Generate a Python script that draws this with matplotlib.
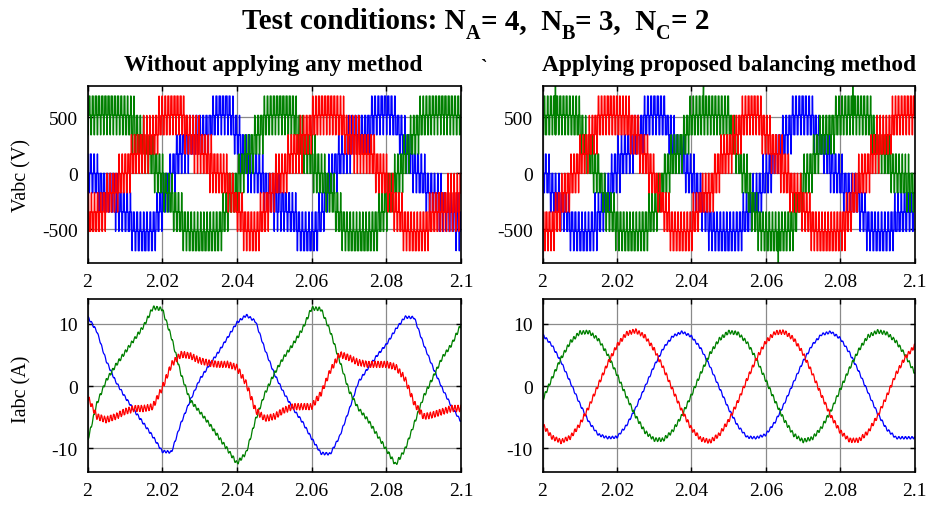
import numpy as np
import pandas as pd
import matplotlib
matplotlib.use("Agg")
import matplotlib.pyplot as plt

plt.rcParams["font.family"] = ["Liberation Serif", "DejaVu Serif"]
plt.rcParams["axes.unicode_minus"] = False

# ---------------------------------------------------------------- data
# sample instants of the tabulated waveforms (s)
t_samp = np.linspace(2.0, 2.1, 41)

# phase voltage references (V) -- without any balancing method
v_left_a = [60, -60, -150, -260, -340, -480, -560, -520, -250, 0, 220, 280, 330,
            400, 560, 580, 350, 100, 30, -100, -250, -280, -380, -540, -570, -400,
            -30, 120, 250, 330, 400, 540, 590, 470, 250, 60, -80, -180, -280, -380, -480]
v_left_b = [520, 560, 580, 560, 520, 420, 250, 120, -60, -250, -420, -540, -580,
            -560, -520, -300, -100, 150, 300, 480, 560, 580, 540, 250, 120, -30,
            -150, -400, -540, -580, -560, -480, -250, -80, 150, 350, 500, 560, 580, 560, 520]
v_left_c = [-420, -380, -250, -120, 0, 150, 250, 300, 480, 560, 560, 300, 250,
            100, 0, -80, -300, -480, -540, -350, -80, 0, 200, 280, 450, 560, 580,
            500, 300, 250, 200, 60, -60, -300, -480, -560, -520, -380, -300, -250, -250]

# phase voltage references (V) -- proposed balancing method
v_right_a = [60, -150, -250, -450, -540, -550, -400, -200, 60, 180, 280, 480, 560,
             520, 280, 120, -30, -200, -450, -540, -560, -520, -380, -220, -50, 150,
             300, 480, 560, 480, 250, 80, -60, -150, -250, -450, -550, -540, -420, -350, -300]
v_right_b = [450, 540, 560, 520, 450, 150, 0, -300, -450, -550, -560, -500, -350,
             -50, 120, 250, 480, 540, 560, 520, 520, 150, -100, -400, -540, -560,
             -540, -450, -100, 80, 300, 400, 500, 560, 560, 520, 300, 150, 0, -80, -120]
v_right_c = [-480, -500, -250, -80, 100, 250, 480, 560, 520, 480, 380, 150, -30,
             -300, -500, -560, -500, -250, -180, 80, 200, 380, 540, 560, 350, 200,
             30, -150, -280, -450, -560, -560, -500, -350, -100, 50, 250, 300, 500, 560, 560]

# isolated overshoots of phase b voltage (balanced case)
spike_t = [2.0035, 2.0433, 2.0634, 2.0834]
spike_v = [780, 780, -800, 780]

# phase currents (A) -- without any balancing method
i_left_a = [11.2, 8.8, 4.1, 0.8, -1.7, -3.9, -6.0, -8.1, -10.5, -10.6, -6.0, -2.3,
            1.0, 3.3, 5.4, 7.8, 10.2, 11.4, 10.4, 5.9, 2.0, -1.0, -3.6, -5.7, -8.4,
            -10.8, -10.9, -8.1, -3.9, 0.6, 2.8, 4.9, 6.7, 9.1, 11.1, 11.0, 6.7, 3.0,
            -0.4, -3.3, -5.7]
i_left_b = [-8.9, -2.8, 0.9, 3.3, 5.4, 7.5, 9.6, 12.6, 12.4, 7.8, 2.0, -2.3, -4.1,
            -6.0, -8.1, -10.2, -12.4, -10.7, -5.4, -1.2, 2.0, 4.6, 6.7, 9.1, 12.5,
            12.4, 8.8, 4.1, -0.7, -3.6, -5.4, -7.8, -10.2, -12.6, -10.2, -6.0, -1.7,
            1.4, 4.6, 6.7, 9.9]
i_left_c = [-1.7, -4.9, -5.4, -4.9, -4.1, -3.6, -3.6, -3.3, -0.3, 3.5, 5.1, 4.9,
            4.1, 3.7, 3.5, 3.5, 3.0, 0.4, -3.9, -5.2, -4.9, -3.9, -3.3, -3.3, -3.3,
            -1.2, 2.5, 5.1, 4.6, 3.8, 3.5, 3.5, 3.5, 3.1, 1.2, -2.8, -4.9, -4.6, -4.1,
            -3.6, -3.6]

# phase currents (A) -- proposed balancing method
i_right_a = [8.3, 6.6, 3.9, 0.6, -2.8, -5.8, -7.8, -8.3, -8.2, -6.4, -3.6, -0.2,
             3.2, 6.1, 8.0, 8.7, 8.0, 6.1, 3.2, -0.2, -3.6, -6.4, -8.2, -8.3, -7.8,
             -5.8, -2.8, 0.6, 3.9, 6.6, 8.3, 8.7, 7.7, 5.4, 2.4, -1.0, -4.3, -6.9,
             -8.3, -8.3, -8.3]
i_right_b = [-2.3, 1.2, 4.5, 7.1, 8.6, 8.7, 7.5, 5.1, 1.9, -1.6, -4.8, -7.3, -8.6,
             -8.6, -7.2, -4.7, -1.5, 2.0, 5.2, 7.5, 8.7, 8.5, 7.0, 4.3, 1.0, -2.4,
             -5.5, -7.8, -8.8, -8.4, -6.7, -4.0, -0.6, 2.8, 5.8, 8.0, 8.8, 8.5, 7.2,
             5.0, 2.2]
i_right_c = [-6.2, -8.2, -8.9, -8.2, -6.2, -3.3, 0.2, 3.6, 6.5, 8.4, 8.9, 8.0, 5.9,
             2.9, -0.6, -4.0, -6.8, -8.5, -8.9, -7.8, -5.6, -2.5, 1.1, 4.4, 7.1, 8.6,
             8.7, 7.6, 5.3, 2.1, -1.5, -4.8, -7.3, -8.7, -8.7, -7.4, -4.9, -1.7, 1.9,
             4.6, 6.4]

# switching ripple (A, peak-to-peak) of each current
ripple_left = [0.4, 0.6, 1.0]
ripple_right = [0.4, 0.6, 0.7]

# converter: voltage step per level, levels per polarity, carriers
STEP = 172.5
N_LEVELS = 4
CARRIER_SPAN = 1.15
F_CARRIER = [1130.0, 1175.0, 1215.0]
CARRIER_PHASE = [0.0, 0.37, 0.71]
SAVE_EVERY = 4          # logged samples: one out of SAVE_EVERY solver steps

phase_colors = ["#0000ff", "#008000", "#ff0000"]

# ---------------------------------------------------------------- waveforms
t = np.linspace(2.0, 2.1, 10001)
dt = t[1] - t[0]


def multilevel(ref_samples, f_c, ph):
    ref = np.interp(t, t_samp, ref_samples)
    x = (t - 2.0) * f_c + ph
    tri = 2.0 * np.abs(2.0 * (x % 1.0) - 1.0) - 1.0
    lvl = np.clip(np.round(ref / STEP + CARRIER_SPAN * tri), -N_LEVELS, N_LEVELS)
    return ref, lvl * STEP


def current(i_samples, v, ref, f_c, pp):
    flux = np.cumsum(v - ref) * dt
    n = int(round(1.0 / (f_c * dt)))
    base = pd.Series(flux).rolling(n, center=True, min_periods=1).mean().values
    r = flux - base
    scale = np.percentile(np.abs(r), 98)
    return np.interp(t, t_samp, i_samples) + 0.5 * pp * r / scale


def build(v_sets, i_sets, ripples, spikes=None):
    volts, amps = [], []
    for k, (vs, cs) in enumerate(zip(v_sets, i_sets)):
        ref, v = multilevel(vs, F_CARRIER[k], CARRIER_PHASE[k])
        amps.append(current(cs, v, ref, F_CARRIER[k], ripples[k]))
        v = v[::SAVE_EVERY].copy()
        if spikes is not None and k == spikes[0]:
            tv = t[::SAVE_EVERY]
            for ts, vv in zip(spikes[1], spikes[2]):
                v[np.argmin(np.abs(tv - ts))] = vv
        volts.append(v)
    return volts, amps


v_left, i_left = build([v_left_a, v_left_b, v_left_c],
                       [i_left_a, i_left_b, i_left_c], ripple_left)
v_right, i_right = build([v_right_a, v_right_b, v_right_c],
                         [i_right_a, i_right_b, i_right_c], ripple_right,
                         spikes=(1, spike_t, spike_v))
t_log = t[::SAVE_EVERY]

# ---------------------------------------------------------------- figure
W, H = 926, 506
fig = plt.figure(figsize=(W / 100, H / 100), dpi=100)


def axes_px(x0, y0, x1, y1):
    return fig.add_axes([x0 / W, 1 - y1 / H, (x1 - x0) / W, (y1 - y0) / H])


ax_vl = axes_px(87.5, 87, 461, 264)
ax_vr = axes_px(542.5, 87, 914.5, 264)
ax_il = axes_px(87.5, 300, 461, 473)
ax_ir = axes_px(542.5, 300, 914.5, 473)

xticks = [2.0, 2.02, 2.04, 2.06, 2.08, 2.1]
xlabels = ["2", "2.02", "2.04", "2.06", "2.08", "2.1"]

for ax, tt, series, ylim, yt, lw in [
    (ax_vl, t_log, v_left, (-800, 780), [-500, 0, 500], 1.0),
    (ax_vr, t_log, v_right, (-800, 780), [-500, 0, 500], 1.0),
    (ax_il, t, i_left, (-13.8, 14.0), [-10, 0, 10], 0.9),
    (ax_ir, t, i_right, (-13.8, 14.0), [-10, 0, 10], 0.9),
]:
    for y, c in zip(series, phase_colors):
        ax.plot(tt, y, color=c, lw=lw)
    ax.set_xlim(2.0, 2.1)
    ax.set_ylim(*ylim)
    ax.set_xticks(xticks)
    ax.set_xticklabels(xlabels)
    ax.set_yticks(yt)
    ax.grid(True, color="#8a8a8a", lw=0.9)
    ax.set_axisbelow(True)
    ax.tick_params(direction="in", length=3.5, width=1.0, top=True, right=True,
                   labelsize=14, pad=7, colors="black")
    for s in ax.spines.values():
        s.set_linewidth(1.2)
        s.set_color("black")

# title with dropped subscripts, laid out piece by piece
renderer = fig.canvas.get_renderer()
title_parts = [("Test conditions: N", False), ("A", True), ("= 4,  N", False),
               ("B", True), ("= 3,  N", False), ("C", True), ("= 2", False)]
TITLE_SIZE, SUB_SIZE, SUB_DROP = 21.0, 14.5, 10.0
TITLE_BASE, TITLE_CENTER = 29.0, 476.0
pieces, x = [], 0.0
for txt, sub in title_parts:
    y = TITLE_BASE + (SUB_DROP if sub else 0.0)
    p = fig.text(x / W, 1 - y / H, txt, ha="left", va="baseline",
                 fontsize=SUB_SIZE if sub else TITLE_SIZE, fontweight="bold")
    x += p.get_window_extent(renderer).width
    pieces.append((p, y))
offset = TITLE_CENTER - x / 2
for p, y in pieces:
    px = p.get_position()[0] * W
    p.set_position(((px + offset) / W, 1 - y / H))

fig.text(273 / W, 1 - 65 / H, "Without applying any method",
         ha="center", va="center", fontsize=16.8, fontweight="bold")
fig.text(729 / W, 1 - 65 / H, "Applying proposed balancing method",
         ha="center", va="center", fontsize=16.8, fontweight="bold")
fig.text(483 / W, 1 - 68 / H, "`", ha="center", va="center", fontsize=14,
         fontweight="bold")
fig.text(22 / W, 1 - 175 / H, "Vabc (V)", rotation=90, ha="center", va="center",
         fontsize=14.5)
fig.text(22 / W, 1 - 389 / H, "Iabc (A)", rotation=90, ha="center", va="center",
         fontsize=14.5)

fig.savefig("out.png", dpi=100)
